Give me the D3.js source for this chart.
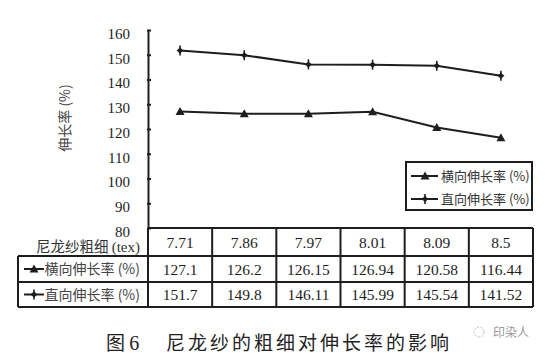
<!DOCTYPE html>
<html><head><meta charset="utf-8">
<script src="https://cdn.jsdelivr.net/npm/d3@7/dist/d3.min.js"></script>
<style>
body{margin:0;background:#fff;}
svg{display:block;}
</style></head>
<body>
<svg id="c" width="549" height="358"></svg>
<script>
const categories = ["7.71","7.86","7.97","8.01","8.09","8.5"];
const transverse = [127.1,126.2,126.15,126.94,120.58,116.44];
const straight = [151.7,149.8,146.11,145.99,145.54,141.52];
const transverseLabels = ["127.1","126.2","126.15","126.94","120.58","116.44"];
const straightLabels = ["151.7","149.8","146.11","145.99","145.54","141.52"];
const yTicks = [80,90,100,110,120,130,140,150,160];
const seriesNames = ["横向伸长率 (%)","直向伸长率 (%)"];
const headerLabel = "尼龙纱粗细 ";
const headerUnit = "(tex)";
const yTitle = "伸长率 (%)";

const svg = d3.select("#c");
const ink = "#1e1e1e";
const numFont = "Liberation Serif, Times New Roman, serif";
const cjkFont = "Noto Sans CJK SC, Noto Sans, sans-serif";

const x = d3.scaleBand().domain(categories).range([148,533]);
const y = d3.scaleLinear().domain([80,160]).range([228,30]);
const cx = d => x(d) + x.bandwidth()/2;

// Y axis
const yAxis = d3.axisLeft(y).tickValues(yTicks).tickSize(0).tickPadding(18);
const gy = svg.append("g").attr("transform","translate(148,0)").call(yAxis);
gy.select(".domain").attr("stroke",ink).attr("stroke-width",2);
gy.selectAll(".tick text").attr("font-family",numFont).attr("font-size",15).attr("fill",ink).attr("dy","0.55em");
gy.selectAll(".tick").append("line").attr("x1",-1).attr("x2",3).attr("stroke",ink).attr("stroke-width",2);

svg.append("text").attr("transform","translate(70,118) rotate(-90)")
  .attr("text-anchor","middle").attr("font-family",cjkFont).attr("font-size",14)
  .attr("fill","#444").text(yTitle);

// Lines
const line = d3.line().x((d,i)=>cx(categories[i])).y(d=>y(d));
[transverse, straight].forEach(s=>{
  svg.append("path").datum(s).attr("d",line).attr("fill","none").attr("stroke",ink).attr("stroke-width",2);
});

function triangle(g, px, py){
  g.append("path").attr("d",`M${px-4.5},${py+3.5}L${px},${py-4.5}L${px+4.5},${py+3.5}Z`).attr("fill",ink);
}
function crossMark(g, px, py){
  g.append("path").attr("d",`M${px-3.5},${py}L${px},${py-3}L${px+3.5},${py}L${px},${py+3}Z`).attr("fill",ink);
  g.append("line").attr("x1",px).attr("x2",px).attr("y1",py-5).attr("y2",py+5).attr("stroke",ink).attr("stroke-width",1.6);
}
const mg = svg.append("g");
transverse.forEach((v,i)=>triangle(mg, cx(categories[i]), y(v)));
straight.forEach((v,i)=>crossMark(mg, cx(categories[i]), y(v)));

// Legend
const lg = svg.append("g");
lg.append("rect").attr("x",406).attr("y",162).attr("width",126).attr("height",48)
  .attr("fill","#fff").attr("stroke",ink).attr("stroke-width",2);
const legendY = [176,199];
seriesNames.forEach((n,i)=>{
  lg.append("line").attr("x1",411).attr("x2",438).attr("y1",legendY[i]).attr("y2",legendY[i]).attr("stroke",ink).attr("stroke-width",2);
  if(i===0) triangle(lg,425,legendY[i]); else crossMark(lg,425,legendY[i]);
  lg.append("text").attr("x",441).attr("y",legendY[i]+5).attr("font-family",cjkFont).attr("font-size",13)
    .attr("fill","#333").text(n);
});

// Table
const tg = svg.append("g");
const rowY = [228,256,282,307];
const L = 18, R = 533;
const tl = (x1,y1,x2,y2,w)=>tg.append("line").attr("x1",x1).attr("y1",y1).attr("x2",x2).attr("y2",y2).attr("stroke",ink).attr("stroke-width",w);
tl(148,rowY[0],R,rowY[0],2);
tl(L,rowY[1],R,rowY[1],2);
tl(L,rowY[2],R,rowY[2],2);
tl(L,rowY[3],R,rowY[3],2);
tl(L,rowY[1],L,rowY[3],2);
tl(R,rowY[0],R,rowY[3],2);
categories.forEach(c=>tl(x(c),rowY[0],x(c),rowY[3],2));

const ht = tg.append("text").attr("x",140).attr("y",252).attr("text-anchor","end")
  .attr("font-family",cjkFont).attr("font-size",14.5).attr("fill","#333");
ht.append("tspan").text(headerLabel);
ht.append("tspan").attr("font-family",numFont).attr("font-size",15).text(headerUnit);

const rows = [categories, transverseLabels, straightLabels];
rows.forEach((r,ri)=>{
  r.forEach((t,i)=>{
    tg.append("text").attr("x",cx(categories[i])).attr("y",(rowY[ri]+rowY[ri+1])/2+5.5)
      .attr("text-anchor","middle").attr("font-family",numFont).attr("font-size",15.5).attr("fill",ink).text(t);
  });
});
seriesNames.forEach((n,i)=>{
  const ry = (rowY[i+1]+rowY[i+2])/2;
  tl(24,ry,44,ry,2);
  if(i===0) triangle(tg,34,ry); else crossMark(tg,34,ry);
  tg.append("text").attr("x",140).attr("y",ry+5).attr("text-anchor","end")
    .attr("font-family",cjkFont).attr("font-size",14).attr("fill","#444").text(n);
});

// Caption
const cap = svg.append("text").attr("y",350).attr("font-family",cjkFont).attr("font-size",19).attr("fill","#222");
cap.append("tspan").attr("x",106).text("图 ");
cap.append("tspan").attr("font-family",numFont).attr("font-size",20).text("6");
cap.append("tspan").attr("x",166).attr("letter-spacing",3).text("尼龙纱的粗细对伸长率的影响");

// Watermark
svg.append("circle").attr("cx",479).attr("cy",332).attr("r",5).attr("fill","none").attr("stroke","#bbb").attr("stroke-width",1).attr("stroke-dasharray","2,1.5");
svg.append("text").attr("x",493).attr("y",337).attr("font-family",cjkFont).attr("font-size",12).attr("fill","#999").text("印染人");
</script>
</body></html>
